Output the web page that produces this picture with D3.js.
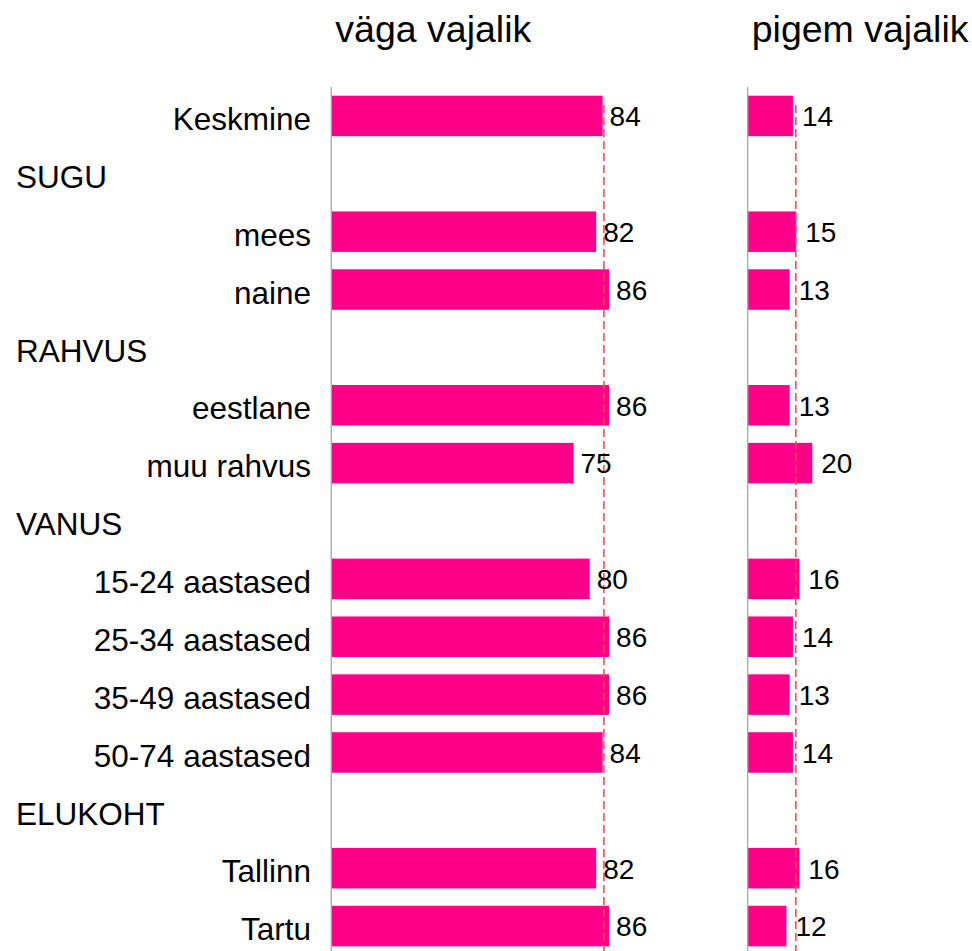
<!DOCTYPE html>
<html>
<head>
<meta charset="utf-8">
<script src="https://cdn.jsdelivr.net/npm/d3@7"></script>
<style>
  body { margin: 0; background: #fff; }
  text { font-family: "Liberation Sans", Arial, sans-serif; fill: #000; }
</style>
</head>
<body>
<svg id="chart" width="972" height="951"></svg>
<script>
// categories (group headers have no bars)
var rows = ["Keskmine", "SUGU", "mees", "naine", "RAHVUS", "eestlane", "muu rahvus",
            "VANUS", "15-24 aastased", "25-34 aastased", "35-49 aastased", "50-74 aastased",
            "ELUKOHT", "Tallinn", "Tartu"];
var headers = ["SUGU", "RAHVUS", "VANUS", "ELUKOHT"];

// series
var panelTitles = ["väga vajalik", "pigem vajalik"];
var vagaVajalik  = [84, null, 82, 86, null, 86, 75, null, 80, 86, 86, 84, null, 82, 86];
var pigemVajalik = [14, null, 15, 13, null, 13, 20, null, 16, 14, 13, 14, null, 16, 12];
var averages = [84.4, 14.9];

var svg = d3.select("#chart");
var width = 972, height = 951;
var barColor = "#ff0088";
var lineColor = "#ff4d4d";

var y = d3.scaleBand()
    .domain(rows)
    .range([87, 955])
    .paddingInner(0.3)
    .paddingOuter(0.15);

var x = d3.scaleLinear().domain([0, 100]).range([0, 323]);

// row labels
svg.append("g").selectAll("text")
    .data(rows)
    .enter().append("text")
    .attr("x", function(d) { return headers.indexOf(d) >= 0 ? 16 : 311; })
    .attr("y", function(d) { return y(d) + y.bandwidth() / 2; })
    .attr("dy", "0.45em")
    .attr("text-anchor", function(d) { return headers.indexOf(d) >= 0 ? "start" : "end"; })
    .style("font-size", "31.5px")
    .text(function(d) { return d; });

var panels = [
    {title: panelTitles[0], values: vagaVajalik, avg: averages[0], left: 331.3, gap: 7},
    {title: panelTitles[1], values: pigemVajalik, avg: averages[1], left: 747.7, gap: 9}
];

panels.forEach(function(p) {
    var g = svg.append("g").attr("transform", "translate(" + p.left + ",0)");

    g.append("text")
        .attr("x", 4)
        .attr("y", 42)
        .style("font-size", "37.5px")
        .text(p.title);

    var data = rows.map(function(r, i) { return {row: r, value: p.values[i]}; })
        .filter(function(d) { return d.value != null; });

    g.selectAll("rect")
        .data(data)
        .enter().append("rect")
        .attr("x", 0)
        .attr("y", function(d) { return y(d.row); })
        .attr("width", function(d) { return x(d.value); })
        .attr("height", y.bandwidth())
        .style("fill", barColor);

    // vertical axis line
    g.append("line")
        .attr("x1", 0).attr("x2", 0)
        .attr("y1", 87).attr("y2", height)
        .style("stroke", "#a6a6a6")
        .style("stroke-width", 1.3);

    // average line
    g.append("line")
        .attr("x1", x(p.avg)).attr("x2", x(p.avg))
        .attr("y1", 105).attr("y2", height)
        .style("stroke", lineColor)
        .style("stroke-width", 1.6)
        .style("stroke-dasharray", "8,4");

    g.selectAll(".val")
        .data(data)
        .enter().append("text")
        .attr("class", "val")
        .attr("x", function(d) { return x(d.value) + p.gap; })
        .attr("y", function(d) { return y(d.row) + y.bandwidth() / 2; })
        .attr("dy", "0.37em")
        .style("font-size", "28px")
        .text(function(d) { return d.value; });
});
</script>
</body>
</html>
